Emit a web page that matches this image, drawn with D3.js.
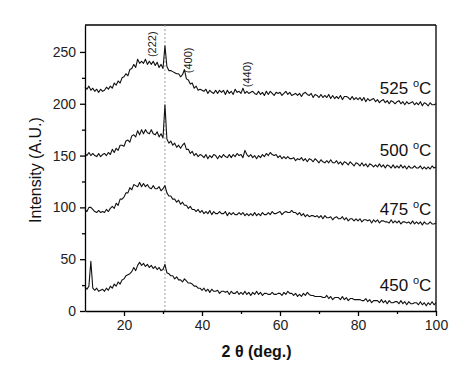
<!DOCTYPE html>
<html>
<head>
<meta charset="utf-8">
<script src="https://cdn.jsdelivr.net/npm/d3@7"></script>
<style>
	body { margin: 0; background: #fff; }
	svg { font-family: "Liberation Sans", Arial, sans-serif; }
	.axis path, .axis line { stroke: #000; stroke-width: 1.3; }
	.axis text { font-size: 14px; fill: #222; }
</style>
</head>
<body>
<svg width="474" height="390"></svg>
<script>

	// sampling of every pattern: 10 deg to 100 deg, 0.5 deg step
	var two_theta_start = 10,
		two_theta_step = 0.5;

	var series_525 = [
		216,214,217,213,215,212,214,211,214,212,
		213,216,214,217,215,220,218,222,220,225,
		226,229,227,233,234,238,235,243,239,241,
		239,243,238,241,238,241,237,240,235,238,
		234,256,236,232,232,231,230,229,229,226,
		228,233,224,223,219,220,215,217,213,214,
		213,212,214,210,213,211,210,213,210,213,
		211,213,209,213,210,212,209,214,211,212,
		210,215,210,212,210,211,212,210,209,212,
		209,211,208,212,209,212,210,208,211,210,
		211,208,210,212,209,211,208,209,210,208,
		210,207,210,211,209,208,210,206,209,208,
		206,209,206,208,206,209,205,208,205,207,
		205,208,204,207,207,206,204,207,204,206,
		204,206,203,206,202,205,203,204,205,202,
		204,201,203,204,201,203,200,203,202,200,
		202,203,200,202,199,202,200,201,202,199,
		201,199,202,198,201,200,198,201,199,199,
		200
	];

	var series_500 = [
		152,150,153,150,152,150,149,152,149,151,
		152,150,153,151,156,153,157,155,160,160,
		159,164,165,163,169,170,168,174,170,175,
		171,175,172,171,175,171,170,173,168,171,
		167,199,166,162,164,160,162,158,160,157,
		160,162,156,156,152,154,150,152,149,151,
		150,148,151,147,150,148,151,150,147,150,
		148,151,149,148,151,148,151,149,152,150,
		151,148,155,151,149,151,148,150,147,150,
		148,151,149,152,150,153,151,150,151,148,
		150,147,149,147,149,147,147,148,145,147,
		146,148,145,147,144,147,146,144,147,145,
		143,146,144,143,145,143,146,143,143,145,
		142,144,141,144,143,141,144,142,140,143,
		142,140,143,140,142,139,142,141,139,141,
		139,142,139,141,138,141,140,138,141,138,
		140,138,141,138,140,137,140,138,138,140,
		138,138,140,137,139,137,139,137,140,138,
		139
	];

	var series_475 = [
		98,96,100,100,98,96,95,97,95,96,
		95,98,96,99,101,99,104,102,108,108,
		110,114,114,119,117,122,121,120,124,120,
		123,120,122,119,118,121,118,118,120,116,
		118,121,114,111,111,108,108,105,107,103,
		105,102,102,99,101,98,98,96,98,95,
		97,94,96,94,97,93,96,94,94,96,
		94,94,96,92,95,93,95,93,93,95,
		93,95,92,94,92,94,92,95,92,94,
		92,95,93,93,95,93,96,94,94,95,
		96,93,95,96,95,95,97,95,95,93,
		95,92,94,91,93,91,92,92,91,92,
		90,92,89,92,90,90,91,88,90,91,
		89,89,91,88,90,87,89,89,87,89,
		87,89,86,88,88,87,88,85,88,86,
		88,85,87,87,86,86,85,88,85,87,
		85,87,84,86,86,85,86,84,87,84,
		86,84,86,83,86,84,84,86,84,84,
		85
	];

	var series_450 = [
		23,21,24,48,22,20,22,19,20,21,
		19,22,20,24,22,26,24,28,26,30,
		31,34,35,36,38,42,39,44,47,44,
		46,43,45,42,44,41,43,40,42,39,
		40,45,37,36,34,34,31,33,30,30,
		28,31,29,27,27,26,24,24,22,22,
		20,22,19,21,18,21,19,19,20,17,
		19,19,18,19,16,19,17,17,19,16,
		18,16,19,16,18,15,18,16,19,16,
		18,15,17,17,16,16,18,16,16,17,
		17,15,18,16,19,17,17,15,17,14,
		16,14,17,15,18,16,15,15,14,14,
		14,14,13,13,15,12,14,11,13,13,
		13,11,14,11,13,10,12,12,11,11,
		11,11,10,10,12,9,11,8,10,10,
		10,8,11,8,10,7,10,8,8,9,
		9,7,10,7,9,6,9,7,7,8,
		8,6,9,6,8,5,8,6,9,6,
		8
	];

	var series_list = [series_525, series_500, series_475, series_450];

	// temperature labels and the intensity of their baseline
	var temp_labels = ["525", "500", "475", "450"],
		temp_label_y = [209, 150, 93, 19];

	// hkl reflections: label, 2theta, intensity at label bottom
	var hkl_labels = ["(222)", "(400)", "(440)"],
		hkl_x = [28.2, 37.4, 52.6],
		hkl_y = [245, 229.5, 216];

	var peak_222 = 30.5;

	var x_ticks_major = [20, 40, 60, 80, 100],
		x_ticks_minor = [30, 50, 70, 90],
		y_ticks_major = [0, 50, 100, 150, 200, 250],
		y_ticks_minor = [25, 75, 125, 175, 225];

	var chart = (function(){

		var svg = d3.select("svg"),
			margin = {top: 25, right: 38, bottom: 79, left: 85},
			width = 474 - margin.left - margin.right,
			height = 390 - margin.top - margin.bottom;

		var x = d3.scaleLinear().domain([10, 100]).range([0, width]),
			y = d3.scaleLinear().domain([0, 276]).range([height, 0]);

		var g = svg.append("g").attr("transform", "translate(" + margin.left + "," + margin.top + ")");

		// frame top and right
		g.append("line").attr("x1", 0).attr("x2", width).attr("y1", 0).attr("y2", 0)
			.attr("stroke", "#000").attr("stroke-width", 1.3);
		g.append("line").attr("x1", width).attr("x2", width).attr("y1", 0).attr("y2", height)
			.attr("stroke", "#000").attr("stroke-width", 1.3);

		// dashed guide at the (222) reflection
		g.append("line")
			.attr("x1", x(peak_222)).attr("x2", x(peak_222))
			.attr("y1", 0).attr("y2", height)
			.attr("stroke", "#999").attr("stroke-width", 1)
			.attr("stroke-dasharray", "2,2");

		var line = d3.line()
			.x(function(d, i){ return x(two_theta_start + i * two_theta_step); })
			.y(function(d){ return y(d); });

		g.append("g").selectAll("path").data(series_list).enter()
			.append("path")
			.attr("d", line)
			.attr("fill", "none")
			.attr("stroke", "#111")
			.attr("stroke-width", 1.1)
			.attr("stroke-linejoin", "round");

		// minor ticks first, then major axes with labels
		g.append("g").attr("class", "axis").attr("transform", "translate(0," + height + ")")
			.call(d3.axisBottom(x).tickValues(x_ticks_minor).tickSize(3).tickFormat(""))
			.select(".domain").remove();
		g.append("g").attr("class", "axis").attr("transform", "translate(0," + height + ")")
			.call(d3.axisBottom(x).tickValues(x_ticks_major).tickSize(5).tickSizeOuter(0).tickPadding(4));

		g.append("g").attr("class", "axis")
			.call(d3.axisLeft(y).tickValues(y_ticks_minor).tickSize(3).tickFormat(""))
			.select(".domain").remove();
		g.append("g").attr("class", "axis")
			.call(d3.axisLeft(y).tickValues(y_ticks_major).tickSize(5).tickSizeOuter(0).tickPadding(4));

		// temperature labels
		temp_labels.forEach(function(t, i){
			var txt = g.append("text")
				.attr("x", x(98.8))
				.attr("y", y(temp_label_y[i]))
				.attr("text-anchor", "end")
				.attr("font-size", "17px")
				.attr("fill", "#111");
			txt.append("tspan").text(t + " ");
			txt.append("tspan").attr("dy", -7).attr("font-size", "11px").text("o");
			txt.append("tspan").attr("dy", 7).text("C");
		});

		// hkl labels, rotated
		hkl_labels.forEach(function(t, i){
			g.append("text")
				.attr("transform", "translate(" + x(hkl_x[i]) + "," + y(hkl_y[i]) + ") rotate(-90)")
				.attr("font-size", "11px")
				.attr("fill", "#222")
				.text(t);
		});

		// axis titles
		svg.append("text")
			.attr("transform", "translate(41," + (margin.top + height / 2 + 2) + ") rotate(-90)")
			.attr("text-anchor", "middle")
			.attr("font-size", "16px")
			.attr("fill", "#111")
			.text("Intensity (A.U.)");

		svg.append("text")
			.attr("x", margin.left + x(54))
			.attr("y", 357)
			.attr("text-anchor", "middle")
			.attr("font-size", "16px")
			.attr("font-weight", "bold")
			.attr("fill", "#111")
			.text("2 \u03b8 (deg.)");

		return null;
	})();

</script>
</body>
</html>
